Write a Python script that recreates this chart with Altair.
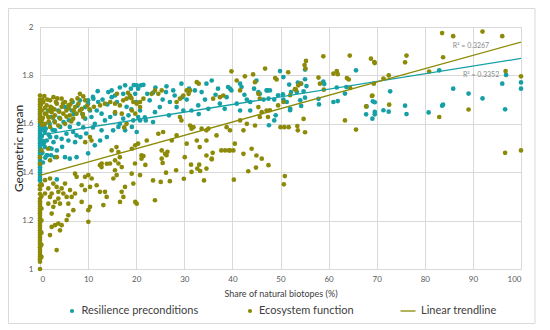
import altair as alt
import pandas as pd

# ---------------- data ----------------
teal_x = [
    0, 0, 0, 0, 0, 0, 0, 0, 0, 0, 0, 0, 0, 0, 0, 0, 0, 0, 0, 0, 0, 0, 0, 0, 0, 0, 0,
    0.3, 1.0, 1.4, 2.1, 2.8, 1.0, 2.4, 0.5, 0.4, 0.8, 1.5, 0.6, 0.6, 2.0, 3.5,
    3.1, 4.2, 4.9, 5.5, 6.2, 6.9, 7.6, 4.5, 5.9,
    5.2, 6.2, 7.6, 3.1, 1.4, 10.0, 3.5,
    9.4, 10.7, 11.4, 10.4, 12.8, 13.5, 14.6, 15.6, 16.6, 17.3, 18.4, 19.4, 20.4,
    12.8, 13.9, 15.2, 16.3, 17.7, 19.1, 20.1,
    14.2, 14.9, 15.6, 17.3, 18.7, 19.8, 14.9, 17.7, 21.0,
    8.3, 9.4, 10.0, 11.1, 12.1, 5.2, 6.6, 3.8, 2.4, 1.7,
    7.3, 11.4, 12.5,
    2.0, 3.0, 4.0, 6.0, 7.0, 8.0, 9.0, 1.2, 2.6, 8.8, 7.8, 6.8, 11.8, 13.0, 16.0,
    18.0, 19.0, 20.0, 12.0, 16.6, 18.9, 19.5, 14.0, 11.0, 9.6, 8.4, 20.1, 20.4,
    11.0, 10.0, 0.9, 1.8, 0.3, 1.1, 2.3, 0.7, 3.4, 4.6,
    21.5, 20.8, 20.8, 22.0, 22.3, 23.5, 22.8, 23.9, 24.9, 26.3, 26.2, 27.7, 28.0,
    29.4, 29.6, 28.4, 29.8, 31.5, 32.2, 33.6, 34.6, 35.7, 34.3, 35.0, 32.9, 39.1,
    39.5, 39.8, 38.8, 41.6, 41.9, 43.7, 43.0, 45.0, 45.4, 45.7, 47.1, 38.4, 37.4,
    40.9, 41.6, 43.7, 23.5, 21.8,
    25.5, 27.0, 30.5, 31.0, 36.5, 37.0, 42.5, 44.5, 46.5, 24.0, 26.8, 33.0,
    49.9, 50.6, 47.3, 51.8, 53.6, 54.3, 55.1, 55.1, 55.4, 52.2, 53.4, 54.8, 55.1,
    47.5, 48.7, 49.5, 50.5, 50.6, 51.3, 52.0, 54.1, 54.3, 57.9, 58.9, 59.1, 58.0,
    61.0, 61.9, 61.7, 63.7, 63.4, 65.7, 47.6, 48.7, 52.0, 49.0, 47.8,
    67.8, 69.1, 69.6, 69.6, 71.4, 72.5, 67.9, 69.2, 69.6, 72.8, 75.9, 76.2, 80.8,
    83.6, 83.8, 85.9, 89.1, 92.0, 96.1, 96.7, 96.9, 100, 100, 83.0,
]
teal_y = [
    1.62, 1.60, 1.59, 1.58, 1.57, 1.56, 1.55, 1.54, 1.53, 1.52, 1.51, 1.50, 1.49,
    1.48, 1.47, 1.46, 1.45, 1.44, 1.43, 1.42, 1.41, 1.40, 1.39, 1.38, 1.37, 1.365, 1.64,
    1.60, 1.566, 1.531, 1.545, 1.524, 1.504, 1.497, 1.48, 1.55, 1.52, 1.47, 1.44, 1.53, 1.50, 1.49,
    1.573, 1.587, 1.607, 1.559, 1.587, 1.566, 1.552, 1.538, 1.531,
    1.462, 1.456, 1.462, 1.462, 1.47, 1.478, 1.37,
    1.621, 1.628, 1.60, 1.655, 1.642, 1.614, 1.628, 1.642, 1.60, 1.621, 1.635, 1.614, 1.628,
    1.573, 1.545, 1.573, 1.587, 1.573, 1.587, 1.566,
    1.731, 1.71, 1.717, 1.724, 1.71, 1.724, 1.738, 1.759, 1.759,
    1.697, 1.669, 1.683, 1.704, 1.69, 1.669, 1.655, 1.655, 1.628, 1.655,
    1.524, 1.511, 1.531,
    1.60, 1.61, 1.625, 1.615, 1.64, 1.60, 1.585, 1.58, 1.575, 1.64, 1.675, 1.69, 1.655, 1.70, 1.69,
    1.67, 1.66, 1.69, 1.735, 1.75, 1.745, 1.76, 1.68, 1.585, 1.56, 1.545, 1.759, 1.745,
    1.711, 1.697, 1.585, 1.555, 1.515, 1.46, 1.47, 1.575, 1.545, 1.505,
    1.761, 1.655, 1.614, 1.614, 1.724, 1.728, 1.697, 1.648, 1.669, 1.755, 1.731, 1.738, 1.717,
    1.766, 1.71, 1.669, 1.655, 1.655, 1.738, 1.731, 1.766, 1.779, 1.70, 1.662, 1.676, 1.752,
    1.745, 1.738, 1.71, 1.766, 1.752, 1.69, 1.70, 1.779, 1.731, 1.724, 1.738, 1.662, 1.683,
    1.683, 1.655, 1.655, 1.607, 1.627,
    1.70, 1.69, 1.70, 1.745, 1.72, 1.745, 1.72, 1.745, 1.70, 1.75, 1.635, 1.64,
    1.818, 1.793, 1.738, 1.762, 1.77, 1.766, 1.784, 1.824, 1.756, 1.731, 1.731, 1.734, 1.708,
    1.704, 1.70, 1.718, 1.722, 1.70, 1.69, 1.663, 1.697, 1.674, 1.703, 1.774, 1.764, 1.68,
    1.69, 1.694, 1.75, 1.752, 1.725, 1.821, 1.594, 1.614, 1.656, 1.635, 1.738,
    1.639, 1.621, 1.649, 1.639, 1.656, 1.65, 1.672, 1.693, 1.689, 1.734, 1.675, 1.64, 1.647,
    1.675, 1.679, 1.745, 1.725, 1.705, 1.766, 1.66, 1.802, 1.771, 1.745, 1.821,
]

olive_x = [
    0, 0, 0, 0, 0, 0, 0, 0, 0, 0, 0, 0, 0, 0, 0, 0, 0, 0, 0, 0, 0, 0, 0, 0, 0, 0,
    0, 0, 0, 0, 0, 0, 0, 0, 0, 0, 0, 0, 0, 0, 0, 0, 0, 0,
    0.3, 0.3, 0.3, 0.3, 0.3, 0.3, 0.3,
    0.7, 1.39, 2.1, 2.8, 3.5, 4.5, 5.2, 5.9, 6.6, 7.3, 8.0, 8.7, 9.4,
    0.35, 1.04, 1.73, 2.4, 3.1, 4.2, 4.85, 5.5, 6.2, 6.9, 7.6, 8.3, 9.0,
    0.35, 1.04, 2.1, 3.1, 3.8, 5.2, 8.3, 9.0,
    0.5, 1.0, 1.5, 2.5, 3.0, 4.0, 4.5, 5.5, 6.0, 7.0, 0.2, 0.6, 1.8, 2.7, 3.6, 0.9,
    1.3, 0.4, 2.2, 6.5, 1.9, 3.3, 4.8, 6.3, 7.8, 8.9, 9.8, 10.3, 11.2,
    12.5, 13.5, 14.6, 15.6, 16.6, 17.3, 18.0, 18.7, 19.4, 20.1, 20.8, 15.6, 17.0,
    19.1, 19.8, 16.0, 18.3, 19.0, 18.0, 17.5,
    10.4, 9.4, 10.7, 14.9, 15.9, 16.3, 16.6, 19.8, 19.1, 20.4, 12.8, 13.9, 15.6,
    17.0, 0.3, 1.7, 2.1, 3.5, 16.3,
    0.35, 1.04, 2.08, 1.73, 2.77, 3.46, 3.81, 4.5, 5.2, 4.85, 5.54, 3.81, 3.12,
    2.08, 2.43, 1.04, 1.73, 2.77, 4.16, 5.89, 6.58, 7.28, 6.24, 7.28, 7.62, 9.36,
    10.05, 10.74, 8.66, 9.36, 10.4, 11.78, 12.47, 13.51, 13.86, 15.25, 15.94, 15.59,
    14.55, 12.82, 12.47, 16.98, 17.67, 17.33, 19.06, 19.75, 20.8, 20.1, 16.63, 13.17,
    10.4, 10.05, 8.66, 6.93, 5.89, 5.54, 4.5, 3.81, 3.12, 2.43, 2.08, 4.16, 3.46,
    10.05, 2.43, 19.4, 19.8,
    21.1, 21.5, 21.9, 25.3, 25.5, 26.3, 26.5, 26.2, 28.3, 27.0, 23.5, 25.1, 29.9,
    30.1, 31.4, 31.5, 32.7, 33.1, 33.3, 34.6, 34.1, 35.7, 35.9, 23.9, 40.3, 43.3,
    44.9, 47.5, 39.3, 40.2, 38.5,
    20.8, 21.5, 23.2, 23.9, 24.6, 25.3, 28.4, 29.1, 29.8, 30.5, 30.9, 31.2, 32.6,
    33.0, 36.0, 37.4, 38.1, 39.8, 42.6, 44.3, 44.7, 45.4, 45.7, 40.9, 41.6,
    29.1, 29.4, 31.2, 31.5, 31.9, 33.6, 34.6, 35.0, 25.6, 24.6, 22.2, 27.4, 28.4,
    32.6, 34.6, 36.7, 38.8, 39.5, 41.6, 43.0, 42.3, 44.7, 45.7, 45.4, 46.1, 47.1,
    30.5, 33.2, 34.6, 35.7, 25.3, 26.0, 21.1, 37.7, 39.5, 40.5, 42.3, 44.0, 45.0, 46.1,
    83.6, 85.9, 92.0, 96.1, 83.8, 80.9, 76.2, 75.9, 72.5, 71.4, 69.4, 68.8, 69.5,
    69.6, 64.4, 58.9, 55.3, 55.0, 55.2, 61.0, 61.7, 61.9, 63.8, 64.2, 57.9, 58.2,
    48.9, 49.2, 51.6, 54.2, 53.7, 53.2, 59.0, 64.5, 69.0, 67.8, 72.6, 54.8, 63.4,
    65.7, 50.0, 50.8, 51.7, 53.5, 53.6, 55.1, 83.0, 89.1, 96.8, 100, 96.7, 100,
    47.8, 46.8, 52.0, 53.0, 50.6, 49.5, 47.4, 69.1, 50.9, 50.7,
]
olive_y = [
    1.717, 1.70, 1.69, 1.68, 1.67, 1.66, 1.65, 1.64, 1.63, 1.62, 1.61, 1.462, 1.435,
    1.346, 1.33, 1.31, 1.29, 1.27, 1.25, 1.23, 1.21, 1.19, 1.17, 1.15, 1.13, 1.11,
    1.09, 1.07, 1.05, 1.03, 1.0, 1.28, 1.26, 1.24, 1.22, 1.20, 1.18, 1.16, 1.14,
    1.12, 1.10, 1.08, 1.06, 1.04,
    1.2, 1.25, 1.3, 1.15, 1.1, 1.35, 1.05,
    1.69, 1.676, 1.697, 1.71, 1.683, 1.704, 1.69, 1.676, 1.697, 1.669, 1.683, 1.662, 1.697,
    1.655, 1.642, 1.628, 1.648, 1.635, 1.621, 1.642, 1.655, 1.635, 1.621, 1.642, 1.655, 1.628,
    1.614, 1.60, 1.587, 1.607, 1.593, 1.60, 1.724, 1.713,
    1.70, 1.665, 1.70, 1.665, 1.66, 1.65, 1.67, 1.63, 1.665, 1.655, 1.68, 1.625, 1.61,
    1.625, 1.705, 1.715, 1.64, 1.595, 1.67, 1.61, 1.655, 1.69, 1.685, 1.68, 1.705, 1.64,
    1.675, 1.66, 1.67,
    1.676, 1.683, 1.69, 1.683, 1.676, 1.697, 1.704, 1.717, 1.69, 1.683, 1.669, 1.648,
    1.642, 1.655, 1.642, 1.724, 1.728, 1.706, 1.60, 1.585,
    1.545, 1.524, 1.531, 1.49, 1.504, 1.483, 1.462, 1.511, 1.497, 1.518, 1.421, 1.435,
    1.449, 1.421, 1.49, 1.497, 1.449, 1.462, 1.436,
    1.346, 1.367, 1.374, 1.333, 1.353, 1.339, 1.319, 1.333, 1.353, 1.312, 1.298, 1.291,
    1.277, 1.298, 1.312, 1.312, 1.27, 1.257, 1.27, 1.27, 1.298, 1.312, 1.326, 1.394,
    1.381, 1.381, 1.388, 1.374, 1.346, 1.326, 1.339, 1.346, 1.319, 1.319, 1.298, 1.374,
    1.388, 1.408, 1.436, 1.436, 1.429, 1.319, 1.339, 1.298, 1.394, 1.436, 1.388, 1.27,
    1.277, 1.264, 1.257, 1.243, 1.277, 1.243, 1.222, 1.202, 1.181, 1.188, 1.181, 1.174,
    1.14, 1.16, 1.078, 1.195, 1.229, 1.353, 1.277,
    1.47, 1.467, 1.43, 1.456, 1.438, 1.47, 1.484, 1.398, 1.408, 1.363, 1.366, 1.36, 1.373,
    1.462, 1.431, 1.401, 1.415, 1.431, 1.405, 1.415, 1.366, 1.453, 1.48, 1.284, 1.369,
    1.404, 1.419, 1.429, 1.49, 1.49, 1.49,
    1.69, 1.704, 1.724, 1.738, 1.724, 1.738, 1.69, 1.704, 1.717, 1.738, 1.724, 1.738,
    1.772, 1.766, 1.704, 1.71, 1.717, 1.817, 1.796, 1.804, 1.772, 1.724, 1.704, 1.779, 1.738,
    1.628, 1.614, 1.593, 1.58, 1.586, 1.58, 1.573, 1.58, 1.566, 1.559, 1.531, 1.531, 1.552,
    1.531, 1.531, 1.552, 1.586, 1.573, 1.614, 1.60, 1.573, 1.593, 1.628, 1.669, 1.648, 1.655,
    1.518, 1.504, 1.469, 1.456, 1.49, 1.476, 1.456, 1.49, 1.49, 1.518, 1.476, 1.497,
    1.469, 1.456,
    1.975, 1.962, 1.981, 1.962, 1.875, 1.816, 1.882, 1.854, 1.80, 1.787, 1.766, 1.869,
    1.855, 1.851, 1.882, 1.879, 1.86, 1.843, 1.828, 1.807, 1.818, 1.805, 1.789, 1.783,
    1.791, 1.766, 1.789, 1.783, 1.813, 1.766, 1.759, 1.741, 1.741, 1.748, 1.715, 1.672,
    1.679, 1.62, 1.614, 1.576, 1.586, 1.586, 1.586, 1.591, 1.573, 1.565, 1.628, 1.659,
    1.818, 1.796, 1.48, 1.49, 1.656, 1.828, 1.718, 1.743, 1.69, 1.676, 1.628, 1.717,
    1.384, 1.35,
]

trend_x = [0, 100]
teal_trend_y = [1.553, 1.87]
olive_trend_y = [1.387, 1.938]

r2_labels = ["R² = 0.3267", "R² = 0.3352"]
r2_x = [89.6, 91.7]
r2_y = [1.922, 1.803]

legend_labels = ["Resilience preconditions", "Ecosystem function", "Linear trendline"]
x_ticks = [0, 10, 20, 30, 40, 50, 60, 70, 80, 90, 100]
y_ticks = [1, 1.1, 1.2, 1.3, 1.4, 1.5, 1.6, 1.7, 1.8, 1.9, 2]

TEAL = "#15a0a6"
OLIVE = "#8c8a07"
FONT = "Lato"

teal_df = pd.DataFrame({"x": teal_x, "y": teal_y})
olive_df = pd.DataFrame({"x": olive_x, "y": olive_y})
trend_df = pd.DataFrame({"x": trend_x, "teal": teal_trend_y, "olive": olive_trend_y})
r2_df = pd.DataFrame({"label": r2_labels, "x": r2_x, "y": r2_y})
one = pd.DataFrame({"a": [0]})

xs = alt.Scale(domain=[0, 100], nice=False, zero=False)
ys = alt.Scale(domain=[1, 2], nice=False, zero=False)

xenc = alt.X("x:Q", scale=xs, axis=alt.Axis(
    values=x_ticks, title="Share  of natural biotopes (%)", titlePadding=6))
yenc = alt.Y("y:Q", scale=ys, axis=alt.Axis(
    values=y_ticks, format="~g", title="Geometric mean",
    titleX=-22, titleY=121, titleAngle=270, titleBaseline="middle", titleAlign="center"))

border = alt.Chart(one).mark_rect(fillOpacity=0, stroke="#d9d9d9", strokeWidth=1).encode(
    x=alt.value(-31.5), x2=alt.value(495), y=alt.value(-18.5), y2=alt.value(296.5))

teal_pts = alt.Chart(teal_df).mark_circle(size=22, opacity=1, color=TEAL).encode(x=xenc, y=yenc)
olive_pts = alt.Chart(olive_df).mark_circle(size=22, opacity=1, color=OLIVE).encode(x=xenc, y=yenc)

teal_line = alt.Chart(trend_df).mark_line(color=TEAL, strokeWidth=1.3).encode(
    x=alt.X("x:Q", scale=xs), y=alt.Y("teal:Q", scale=ys))
olive_line = alt.Chart(trend_df).mark_line(color=OLIVE, strokeWidth=1.3).encode(
    x=alt.X("x:Q", scale=xs), y=alt.Y("olive:Q", scale=ys))

r2_text = alt.Chart(r2_df).mark_text(fontSize=7, color="#8a8a8a", font=FONT).encode(
    x=alt.X("x:Q", scale=xs), y=alt.Y("y:Q", scale=ys), text="label:N")

LEG_Y = 284
leg_dot1 = alt.Chart(one).mark_circle(size=18, opacity=1, color=TEAL).encode(
    x=alt.value(32), y=alt.value(LEG_Y))
leg_txt1 = alt.Chart(one).mark_text(align="left", baseline="middle", fontSize=11,
                                    color="#404040", font=FONT, text=legend_labels[0]).encode(
    x=alt.value(41.5), y=alt.value(LEG_Y))
leg_dot2 = alt.Chart(one).mark_circle(size=18, opacity=1, color=OLIVE).encode(
    x=alt.value(210), y=alt.value(LEG_Y))
leg_txt2 = alt.Chart(one).mark_text(align="left", baseline="middle", fontSize=11,
                                    color="#404040", font=FONT, text=legend_labels[1]).encode(
    x=alt.value(219), y=alt.value(LEG_Y))
leg_rule = alt.Chart(one).mark_rule(color=OLIVE, strokeWidth=1.3).encode(
    x=alt.value(360.5), x2=alt.value(375.5), y=alt.value(LEG_Y))
leg_txt3 = alt.Chart(one).mark_text(align="left", baseline="middle", fontSize=11,
                                    color="#404040", font=FONT, text=legend_labels[2]).encode(
    x=alt.value(381), y=alt.value(LEG_Y))

chart = alt.layer(
    border, teal_pts, olive_pts, teal_line, olive_line, r2_text,
    leg_dot1, leg_txt1, leg_dot2, leg_txt2, leg_rule, leg_txt3,
).properties(
    width=481, height=242,
    padding={"left": 32, "top": 19, "right": 16, "bottom": 58},
    autosize=alt.AutoSizeParams(type="none"),
).configure_view(
    stroke="transparent"
).configure_axis(
    grid=True, gridColor="#d9d9d9", gridWidth=1,
    domainColor="#d9d9d9", ticks=False,
    labelFont=FONT, labelFontSize=8, labelColor="#595959",
    titleFont=FONT, titleFontWeight="normal",
).configure_axisX(
    labelPadding=6, titleFontSize=9, titleColor="#404040",
).configure_axisY(
    labelPadding=7, titleFontSize=12, titleColor="#262626",
)

chart.save("out.html", embed_options={"renderer": "svg", "actions": False})
